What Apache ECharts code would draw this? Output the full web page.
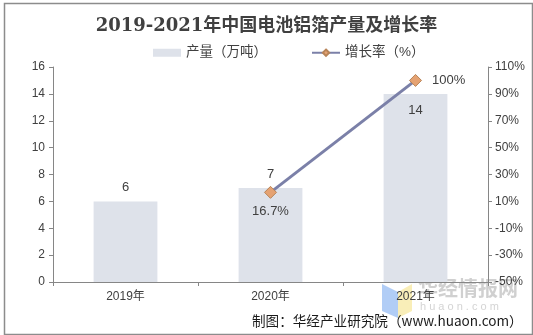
<!DOCTYPE html>
<html>
<head>
<meta charset="utf-8">
<script src="https://cdn.jsdelivr.net/npm/echarts@6/dist/echarts.min.js"></script>
<style>
html,body{margin:0;padding:0;background:#fff;}
#main{width:533px;height:335px;}
</style>
</head>
<body>
<div id="main"></div>
<script>
var years = ['2019年', '2020年', '2021年'];
var output = [6, 7, 14];          // 产量（万吨）
var growth = [null, 16.7, 100];   // 增长率（%）

var myChart = echarts.init(document.getElementById('main'));
var font = 'Liberation Sans, Arial, Noto Sans CJK SC, sans-serif';
var option = {
    backgroundColor: '#fff',
    animation: false,
    title: {
        text: '2019-2021年中国电池铝箔产量及增长率',
        left: 'center',
        top: 12,
        textStyle: {
            fontFamily: 'DejaVu Serif, Noto Sans CJK SC, serif',
            fontSize: 18,
            fontWeight: 'bold',
            color: '#404040'
        }
    },
    legend: {
        top: 41,
        left: 148,
        itemGap: 44,
        itemWidth: 28,
        itemHeight: 8,
        textStyle: {fontSize: 13.5, color: '#404040', fontFamily: font},
        data: [
            {name: '产量（万吨）', icon: 'rect'},
            {name: '增长率（%）'}
        ]
    },
    grid: {left: 53, right: 45, top: 67, bottom: 53},
    xAxis: {
        type: 'category',
        data: years,
        axisLine: {lineStyle: {color: '#868686'}},
        axisTick: {show: true, length: 4, lineStyle: {color: '#868686'}},
        axisLabel: {fontSize: 12, color: '#404040', margin: 9, fontFamily: font}
    },
    yAxis: [
        {
            type: 'value',
            min: 0, max: 16, interval: 2,
            splitLine: {show: false},
            axisLine: {show: true, lineStyle: {color: '#868686'}},
            axisTick: {show: true, length: 4, lineStyle: {color: '#868686'}},
            axisLabel: {fontSize: 12, color: '#404040', margin: 8, fontFamily: font}
        },
        {
            type: 'value',
            min: -50, max: 110, interval: 20,
            splitLine: {show: false},
            axisLine: {show: true, lineStyle: {color: '#868686'}},
            axisTick: {show: true, length: 4, lineStyle: {color: '#868686'}},
            axisLabel: {fontSize: 12, color: '#404040', margin: 7, formatter: '{value}%', fontFamily: font}
        }
    ],
    series: [
        {
            name: '产量（万吨）',
            type: 'bar',
            data: output.map(function (v, i) {
                return {
                    value: v,
                    label: i === 2 ? {position: 'insideTop', distance: 10} : {position: 'top', distance: 7}
                };
            }),
            barWidth: '44%',
            itemStyle: {color: '#dee2ea'},
            label: {show: true, fontSize: 13, color: '#404040', fontFamily: font}
        },
        {
            name: '增长率（%）',
            type: 'line',
            yAxisIndex: 1,
            data: growth.map(function (v, i) {
                return {
                    value: v,
                    label: i === 1 ? {position: 'bottom', distance: 6, formatter: '{c}%'} : {position: 'right', distance: 10, formatter: '{c}%'}
                };
            }),
            symbol: 'diamond',
            symbolSize: 12,
            lineStyle: {color: '#7b80a8', width: 3},
            itemStyle: {color: '#e5a272', borderColor: '#b88458', borderWidth: 1},
            label: {show: true, fontSize: 13, color: '#404040', fontFamily: font}
        }
    ],
    graphic: [
        {
            type: 'rect',
            left: 2, top: 1,
            shape: {width: 528, height: 331},
            style: {fill: 'none', stroke: '#8c8c8c', lineWidth: 1.5},
            silent: true
        },
        {
            type: 'polygon',
            shape: {points: [[382, 284], [398, 292], [398, 318], [382, 311]]},
            style: {fill: '#a9c8f5', opacity: 0.9},
            silent: true
        },
        {
            type: 'polygon',
            shape: {points: [[398, 292], [412, 284], [412, 311], [398, 318]]},
            style: {fill: '#f8ecb0', opacity: 0.9},
            silent: true
        },
        {
            type: 'text',
            left: 418, top: 278,
            style: {text: '华经情报网', font: 'bold 20px Noto Sans CJK SC', fill: 'rgba(170,170,170,0.55)'},
            silent: true
        },
        {
            type: 'text',
            left: 420, top: 301,
            style: {text: 'h u a o n . c o m', font: '11px Liberation Sans', fill: 'rgba(170,170,170,0.5)'},
            silent: true
        },
        {
            type: 'text',
            left: 252, top: 314,
            style: {text: '制图：华经产业研究院（www.huaon.com）', font: '13.6px Noto Sans CJK SC', fill: '#1a1a1a'},
            silent: true
        }
    ]
};
myChart.setOption(option);
</script>
</body>
</html>
